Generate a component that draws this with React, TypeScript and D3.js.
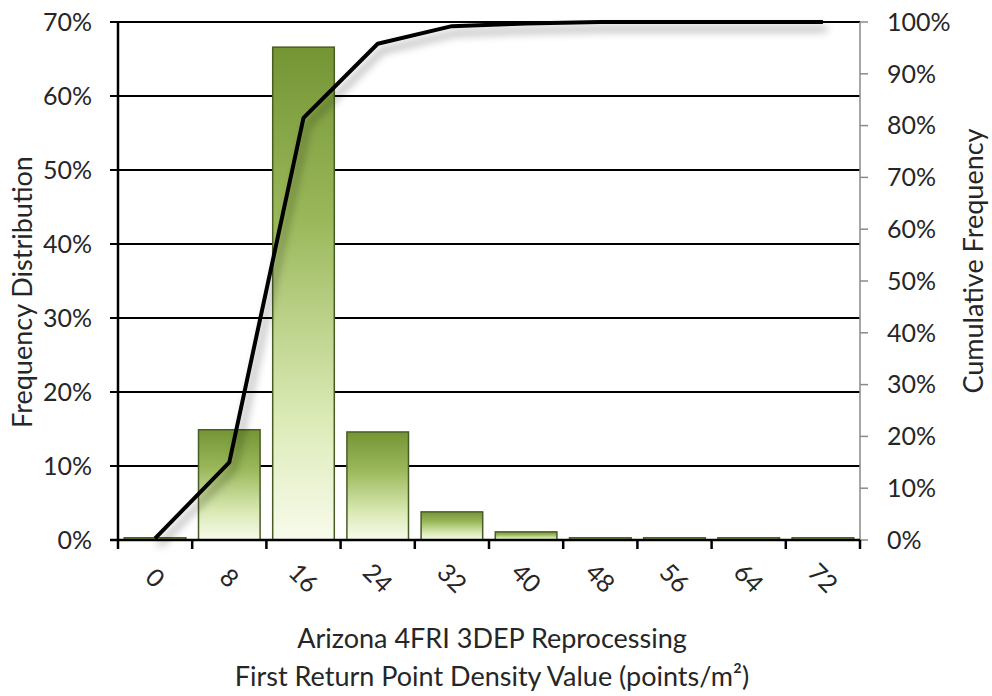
import React from "react";
import * as d3 from "d3";

const categories = ["0", "8", "16", "24", "32", "40", "48", "56", "64", "72"];
const frequency = [0.3, 14.9, 66.6, 14.6, 3.8, 1.1, 0.3, 0.3, 0.3, 0.3];
const cumulative = [0.3, 15.0, 81.5, 95.8, 99.2, 99.7, 100, 100, 100, 100];
const leftTicks = [0, 10, 20, 30, 40, 50, 60, 70];
const rightTicks = [0, 10, 20, 30, 40, 50, 60, 70, 80, 90, 100];

const W = 992;
const H = 696;
const left = 118;
const right = 860;
const top = 22;
const bottom = 540;
const FONT = "Lato, 'Open Sans', sans-serif";
const TEXT = "#262626";
const TICK_FS = 25;
const TITLE_FS = 27;

export default function App() {
  const x = d3
    .scaleBand<string>()
    .domain(categories)
    .range([left, right])
    .paddingInner(0.17)
    .paddingOuter(0.085);
  const step = x.step();
  const yL = d3.scaleLinear().domain([0, 70]).range([bottom, top]);
  const yR = d3.scaleLinear().domain([0, 100]).range([bottom, top]);

  const line = d3
    .line<number>()
    .x((_, i) => (x(categories[i]) as number) + x.bandwidth() / 2)
    .y((d) => yR(d));

  const boundaries = d3.range(categories.length + 1).map((i) => left + i * step);

  return (
    <svg
      width={W}
      height={H}
      style={{ position: "absolute", left: 0, top: 0, background: "#fff" }}
      fontFamily={FONT}
    >
      <defs>
        <linearGradient id="barGrad" x1="0" y1="0" x2="0" y2="1">
          <stop offset="0%" stopColor="#759535" />
          <stop offset="35%" stopColor="#9aB85a" />
          <stop offset="75%" stopColor="#dbeab6" />
          <stop offset="100%" stopColor="#f8fbec" />
        </linearGradient>
        <filter id="shadow" x="-10%" y="-10%" width="130%" height="130%">
          <feDropShadow dx="4" dy="7" stdDeviation="4" floodColor="#000" floodOpacity="0.4" />
        </filter>
      </defs>

      {/* gridlines */}
      {leftTicks.map((t) => (
        <line key={"g" + t} x1={left - 8} x2={right} y1={yL(t)} y2={yL(t)} stroke="#000" strokeWidth={2} />
      ))}

      {/* bars */}
      {frequency.map((v, i) => (
        <rect
          key={"b" + i}
          x={x(categories[i])}
          y={yL(v)}
          width={x.bandwidth()}
          height={bottom - yL(v)}
          fill="url(#barGrad)"
          stroke="#4a5c26"
          strokeWidth={1.5}
        />
      ))}

      {/* left axis */}
      <line x1={left} x2={left} y1={top} y2={bottom} stroke="#000" strokeWidth={2.5} />
      {/* right axis */}
      <line x1={right} x2={right} y1={top} y2={bottom} stroke="#8a8a8a" strokeWidth={1.5} />
      {rightTicks.map((t) => (
        <line key={"rt" + t} x1={right} x2={right + 8} y1={yR(t)} y2={yR(t)} stroke="#8a8a8a" strokeWidth={1.5} />
      ))}
      {/* bottom axis */}
      <line x1={left - 8} x2={right} y1={bottom} y2={bottom} stroke="#000" strokeWidth={2.5} />
      {boundaries.map((b, i) => (
        <line key={"bt" + i} x1={b} x2={b} y1={bottom} y2={bottom + 9} stroke="#000" strokeWidth={2.5} />
      ))}

      {/* cumulative line */}
      <path d={line(cumulative) || ""} fill="none" stroke="#000" strokeWidth={4} strokeLinejoin="round" filter="url(#shadow)" />

      {/* left tick labels */}
      {leftTicks.map((t) => (
        <text key={"lt" + t} x={92} y={yL(t)} dy="0.35em" textAnchor="end" fontSize={TICK_FS} fill={TEXT}>
          {t + "%"}
        </text>
      ))}
      {/* right tick labels */}
      {rightTicks.map((t) => (
        <text key={"rl" + t} x={887} y={yR(t)} dy="0.35em" textAnchor="start" fontSize={TICK_FS} fill={TEXT}>
          {t + "%"}
        </text>
      ))}
      {/* x tick labels */}
      {categories.map((c) => {
        const cx = (x(c) as number) + x.bandwidth() / 2;
        const cy = 578;
        return (
          <text
            key={"xl" + c}
            x={cx}
            y={cy}
            dy="0.35em"
            textAnchor="middle"
            fontSize={TICK_FS}
            fill={TEXT}
            transform={`rotate(45, ${cx}, ${cy})`}
          >
            {c}
          </text>
        );
      })}

      {/* axis titles */}
      <text
        x={0}
        y={0}
        dy="0.35em"
        transform={`translate(23, 292) rotate(-90)`}
        textAnchor="middle"
        fontSize={TITLE_FS}
        fill={TEXT}
      >
        Frequency Distribution
      </text>
      <text
        x={0}
        y={0}
        dy="0.35em"
        transform={`translate(974, 261) rotate(-90)`}
        textAnchor="middle"
        fontSize={TITLE_FS}
        fill={TEXT}
      >
        Cumulative Frequency
      </text>
      <text x={492} y={648} textAnchor="middle" fontSize={TITLE_FS} fill={TEXT}>
        Arizona 4FRI 3DEP Reprocessing
      </text>
      <text x={492} y={686} textAnchor="middle" fontSize={TITLE_FS} fill={TEXT}>
        First Return Point Density Value (points/m²)
      </text>
    </svg>
  );
}
